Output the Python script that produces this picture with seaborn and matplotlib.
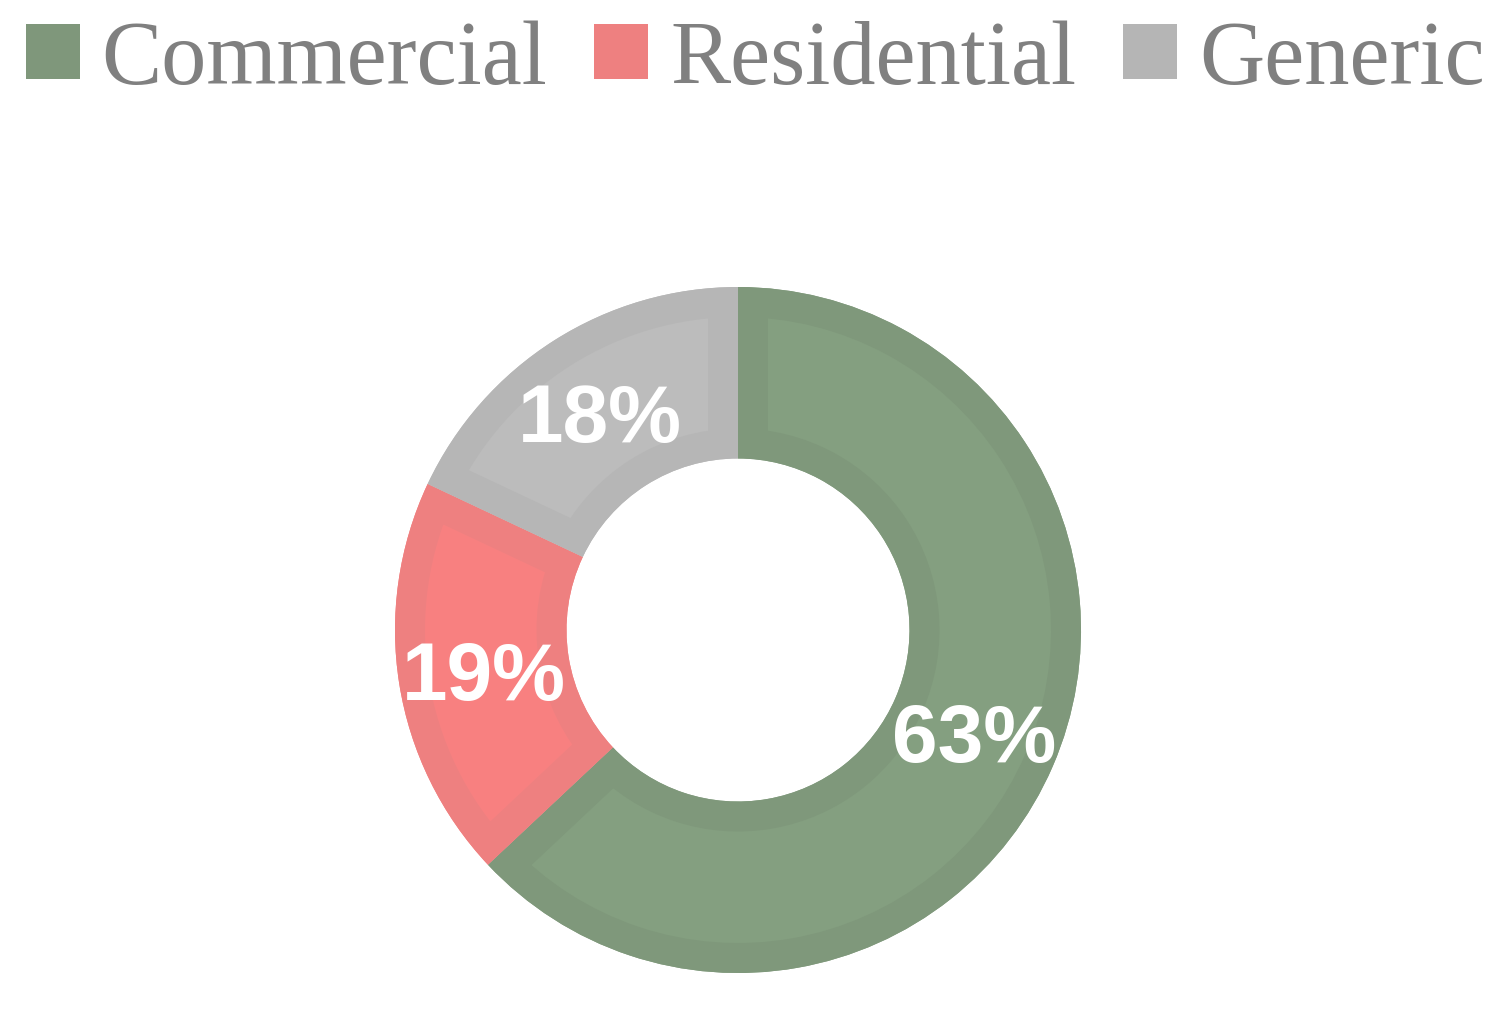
import matplotlib
matplotlib.use("Agg")
import matplotlib.pyplot as plt
from matplotlib.patches import Patch, Wedge
import seaborn as sns

categories = ["Commercial", "Residential", "Generic"]
shares = [63, 19, 18]
fill_colors = ["#849F80", "#F88080", "#BCBCBC"]
border_colors = ["#7F987B", "#EE8080", "#B6B6B6"]
legend_colors = ["#7F977B", "#EE8080", "#B5B5B5"]

sns.set_theme(style="white")
plt.rcParams["font.family"] = ["Liberation Sans", "DejaVu Sans"]

W, H = 1506, 1019
fig = plt.figure(figsize=(W / 100, H / 100), dpi=100)
fig.patch.set_facecolor("white")

cx, cy, R = 738, 630, 343
ax = fig.add_axes([(cx - R) / W, (H - cy - R) / H, 2 * R / W, 2 * R / H])

wedges, texts, autotexts = ax.pie(
    shares,
    colors=fill_colors,
    startangle=90,
    counterclock=False,
    radius=1.0,
    autopct="%.0f%%",
    pctdistance=0.75,
    wedgeprops=dict(width=0.5, linewidth=0, edgecolor="none"),
    textprops=dict(color="white", fontsize=59, fontweight="bold",
                   family=["Liberation Sans", "DejaVu Sans"]),
)

border_px = 30
lw_pt = 2 * border_px * 72 / 100
for w, bc in zip(wedges, border_colors):
    outline = Wedge(w.center, w.r, w.theta1, w.theta2, width=w.width,
                    facecolor="none", edgecolor=bc, linewidth=lw_pt,
                    zorder=w.get_zorder() + 0.5)
    ax.add_patch(outline)
    outline.set_clip_path(w)

for t in autotexts:
    t.set_zorder(10)
    t.set_va("center_baseline")

ax.set_xlim(-1, 1)
ax.set_ylim(-1, 1)
ax.set_aspect("equal")
ax.axis("off")

handles = [Patch(facecolor=c, edgecolor="none") for c in legend_colors]
leg = fig.legend(
    handles, categories,
    loc="upper center", bbox_to_anchor=(755 / W, 1.0 + 0.042),
    ncol=3, frameon=False,
    prop=dict(family=["Liberation Serif", "DejaVu Serif"], size=65),
    handlelength=0.6, handleheight=0.56, handletextpad=0.24,
    columnspacing=0.52, borderpad=0.2,
)
for t in leg.get_texts():
    t.set_color("#808080")

fig.savefig("out.png", dpi=100, facecolor="white")
